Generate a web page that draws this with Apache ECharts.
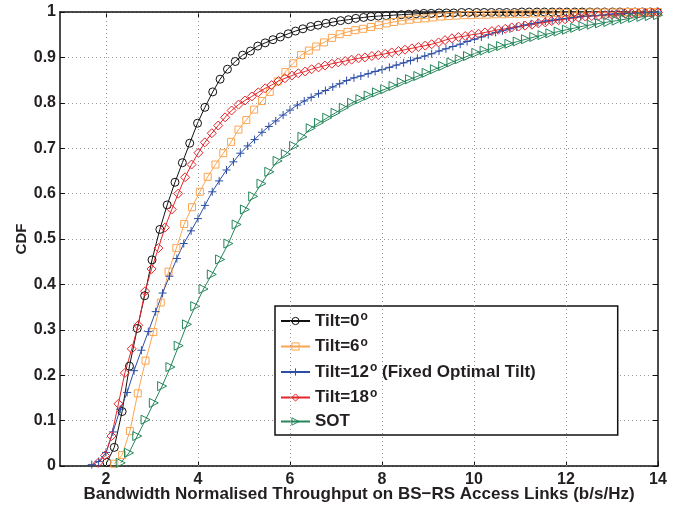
<!DOCTYPE html>
<html>
<head>
<meta charset="utf-8">
<script src="https://cdn.jsdelivr.net/npm/echarts@6/dist/echarts.min.js"></script>
<style>
  html, body { margin: 0; padding: 0; background: #fff; }
  #chart { width: 681px; height: 508px; }
</style>
</head>
<body>
<div id="chart"></div>
<script>
// Axis ticks and labels
const xTicks = [2, 4, 6, 8, 10, 12, 14];
const xGridLines = [2, 4, 6, 8, 10, 12];
const yTickLabels = ['0', '0.1', '0.2', '0.3', '0.4', '0.5', '0.6', '0.7', '0.8', '0.9', '1'];
const xName = 'Bandwidth Normalised Throughput on BS\u2212RS Access Links (b/s/Hz)';
const yName = 'CDF';

// Series names (legend order)
const seriesNames = ['Tilt=0', 'Tilt=6', 'Tilt=12', 'Tilt=18', 'SOT'];

// Tilt = 0 deg
const tilt0X = [2.02, 2.18, 2.35, 2.51, 2.68, 2.84, 3.00, 3.17, 3.33, 3.50, 3.66, 3.82, 3.99, 4.15, 4.32, 4.48, 4.64, 4.81, 4.97, 5.14, 5.30, 5.46, 5.63, 5.79, 5.96, 6.12, 6.28, 6.45, 6.61, 6.78, 6.94, 7.10, 7.27, 7.43, 7.60, 7.76, 7.92, 8.09, 8.25, 8.42, 8.58, 8.74, 8.91, 9.07, 9.24, 9.40, 9.56, 9.73, 9.89, 10.06, 10.22, 10.38, 10.55, 10.71, 10.88, 11.04, 11.20, 11.37, 11.53, 11.70, 11.86, 12.02, 12.19, 12.35, 12.52, 12.68, 12.84, 13.01, 13.17, 13.34, 13.50, 13.66, 13.83, 13.99];
const tilt0Y = [0.008, 0.041, 0.12, 0.22, 0.303, 0.375, 0.454, 0.521, 0.575, 0.625, 0.668, 0.711, 0.755, 0.79, 0.824, 0.852, 0.874, 0.891, 0.905, 0.914, 0.925, 0.932, 0.939, 0.945, 0.952, 0.958, 0.963, 0.968, 0.971, 0.975, 0.978, 0.981, 0.983, 0.986, 0.988, 0.99, 0.991, 0.992, 0.993, 0.994, 0.995, 0.996, 0.997, 0.997, 0.998, 0.998, 0.998, 0.999, 0.999, 0.999, 0.999, 0.999, 0.999, 0.999, 0.999, 1, 1, 1, 1, 1, 1, 1, 1, 1, 1, 1, 1, 1, 1, 1, 1, 1, 1, 1];

// Tilt = 6 deg
const tilt6X = [2.18, 2.35, 2.52, 2.69, 2.86, 3.03, 3.19, 3.36, 3.53, 3.70, 3.87, 4.04, 4.21, 4.38, 4.55, 4.72, 4.88, 5.05, 5.22, 5.39, 5.56, 5.73, 5.90, 6.07, 6.24, 6.41, 6.57, 6.74, 6.91, 7.08, 7.25, 7.42, 7.59, 7.76, 7.93, 8.10, 8.26, 8.43, 8.60, 8.77, 8.94, 9.11, 9.28, 9.45, 9.62, 9.79, 9.95, 10.12, 10.29, 10.46, 10.63, 10.80, 10.97, 11.14, 11.31, 11.48, 11.64, 11.81, 11.98, 12.15, 12.32, 12.49, 12.66, 12.83, 13.00, 13.17, 13.33, 13.50, 13.67, 13.84, 14.00];
const tilt6Y = [0.005, 0.024, 0.077, 0.16, 0.232, 0.295, 0.36, 0.428, 0.48, 0.533, 0.57, 0.604, 0.637, 0.664, 0.689, 0.714, 0.741, 0.762, 0.785, 0.804, 0.824, 0.847, 0.868, 0.887, 0.905, 0.915, 0.924, 0.933, 0.943, 0.951, 0.956, 0.96, 0.963, 0.967, 0.971, 0.975, 0.978, 0.981, 0.983, 0.985, 0.986, 0.988, 0.99, 0.991, 0.992, 0.993, 0.993, 0.994, 0.994, 0.995, 0.995, 0.996, 0.996, 0.996, 0.997, 0.997, 0.997, 0.998, 0.998, 0.998, 0.998, 0.999, 0.999, 0.999, 0.999, 0.999, 1, 1, 1, 1, 1];

// Tilt = 12 deg (fixed optimal tilt)
const tilt12X = [1.69, 1.84, 2.00, 2.15, 2.31, 2.46, 2.61, 2.77, 2.92, 3.08, 3.23, 3.38, 3.54, 3.69, 3.85, 4.00, 4.15, 4.31, 4.46, 4.62, 4.77, 4.92, 5.08, 5.23, 5.39, 5.54, 5.69, 5.85, 6.00, 6.16, 6.31, 6.46, 6.62, 6.77, 6.93, 7.08, 7.23, 7.39, 7.54, 7.70, 7.85, 8.00, 8.16, 8.31, 8.47, 8.62, 8.77, 8.93, 9.08, 9.24, 9.39, 9.54, 9.70, 9.85, 10.01, 10.16, 10.31, 10.47, 10.62, 10.78, 10.93, 11.08, 11.24, 11.39, 11.55, 11.70, 11.85, 12.01, 12.16, 12.32, 12.47, 12.62, 12.78, 12.93, 13.09, 13.24, 13.39, 13.55, 13.70, 13.86, 14.00];
const tilt12Y = [0.003, 0.010, 0.030, 0.075, 0.125, 0.162, 0.21, 0.255, 0.296, 0.34, 0.381, 0.418, 0.457, 0.49, 0.518, 0.545, 0.574, 0.604, 0.628, 0.652, 0.67, 0.689, 0.705, 0.719, 0.735, 0.748, 0.76, 0.773, 0.784, 0.795, 0.804, 0.812, 0.82, 0.827, 0.835, 0.842, 0.849, 0.855, 0.859, 0.864, 0.869, 0.873, 0.878, 0.883, 0.888, 0.893, 0.898, 0.903, 0.908, 0.914, 0.919, 0.924, 0.929, 0.935, 0.94, 0.945, 0.95, 0.955, 0.959, 0.963, 0.967, 0.971, 0.974, 0.977, 0.98, 0.982, 0.984, 0.986, 0.988, 0.99, 0.991, 0.992, 0.993, 0.995, 0.996, 0.997, 0.997, 0.998, 0.999, 0.999, 1];

// Tilt = 18 deg
const tilt18X = [1.83, 1.98, 2.12, 2.27, 2.41, 2.56, 2.70, 2.85, 2.99, 3.14, 3.28, 3.43, 3.57, 3.72, 3.86, 4.01, 4.15, 4.30, 4.44, 4.59, 4.73, 4.88, 5.02, 5.17, 5.31, 5.46, 5.60, 5.75, 5.89, 6.04, 6.18, 6.33, 6.47, 6.62, 6.76, 6.91, 7.05, 7.20, 7.34, 7.49, 7.63, 7.78, 7.92, 8.07, 8.21, 8.36, 8.50, 8.65, 8.79, 8.94, 9.08, 9.23, 9.37, 9.52, 9.66, 9.81, 9.95, 10.10, 10.24, 10.39, 10.53, 10.68, 10.82, 10.97, 11.11, 11.26, 11.40, 11.55, 11.69, 11.84, 11.98, 12.13, 12.27, 12.42, 12.56, 12.71, 12.85, 13.00, 13.14, 13.29, 13.43, 13.58, 13.72, 13.87, 14.00];
const tilt18Y = [0.007, 0.023, 0.066, 0.137, 0.205, 0.258, 0.31, 0.385, 0.434, 0.48, 0.525, 0.565, 0.60, 0.636, 0.664, 0.69, 0.713, 0.733, 0.75, 0.768, 0.783, 0.796, 0.805, 0.814, 0.823, 0.832, 0.839, 0.848, 0.854, 0.86, 0.865, 0.869, 0.874, 0.878, 0.882, 0.886, 0.889, 0.892, 0.895, 0.898, 0.9, 0.903, 0.905, 0.908, 0.911, 0.914, 0.917, 0.92, 0.923, 0.926, 0.929, 0.933, 0.938, 0.942, 0.945, 0.947, 0.95, 0.952, 0.955, 0.958, 0.961, 0.963, 0.966, 0.968, 0.97, 0.972, 0.975, 0.977, 0.98, 0.982, 0.984, 0.986, 0.988, 0.99, 0.991, 0.992, 0.993, 0.994, 0.995, 0.996, 0.997, 0.997, 0.998, 0.998, 0.999];

// SOT
const sotX = [2.32, 2.50, 2.68, 2.86, 3.04, 3.22, 3.40, 3.58, 3.76, 3.94, 4.12, 4.30, 4.48, 4.66, 4.84, 5.02, 5.20, 5.38, 5.55, 5.73, 5.91, 6.09, 6.27, 6.45, 6.63, 6.81, 6.99, 7.17, 7.35, 7.53, 7.71, 7.89, 8.07, 8.25, 8.43, 8.61, 8.79, 8.97, 9.15, 9.33, 9.51, 9.69, 9.87, 10.05, 10.23, 10.41, 10.59, 10.77, 10.95, 11.13, 11.31, 11.49, 11.66, 11.84, 12.02, 12.20, 12.38, 12.56, 12.74, 12.92, 13.10, 13.28, 13.46, 13.64, 13.82, 14.00];
const sotY = [0.007, 0.029, 0.066, 0.102, 0.139, 0.176, 0.218, 0.265, 0.312, 0.352, 0.39, 0.422, 0.455, 0.49, 0.532, 0.565, 0.594, 0.622, 0.648, 0.672, 0.687, 0.705, 0.725, 0.744, 0.756, 0.767, 0.778, 0.789, 0.8, 0.808, 0.816, 0.823, 0.83, 0.837, 0.845, 0.852, 0.859, 0.866, 0.874, 0.881, 0.889, 0.896, 0.903, 0.91, 0.915, 0.92, 0.925, 0.93, 0.935, 0.94, 0.945, 0.949, 0.953, 0.957, 0.961, 0.965, 0.969, 0.972, 0.975, 0.978, 0.981, 0.984, 0.987, 0.989, 0.991, 0.993];

const FONT = '"Liberation Sans", Arial, Helvetica, sans-serif';
const TEXT = '#231f20';
const AXIS = '#111';
const gridLineStyle = { color: '#9a9a9a', width: 1, type: [1, 3] };

// Legend labels with superscript degree "o"
const legendLabels = {
  'Tilt=0': '{b|Tilt=0}{s|o}',
  'Tilt=6': '{b|Tilt=6}{s|o}',
  'Tilt=12': '{b|Tilt=12}{s|o}{b| (Fixed Optimal Tilt)}',
  'Tilt=18': '{b|Tilt=18}{s|o}',
  'SOT': '{b|SOT}'
};

function pairs(xs, ys) {
  const n = Math.min(xs.length, ys.length);
  const out = [];
  for (let i = 0; i < n; i++) out.push([xs[i], ys[i]]);
  return out;
}

function lineSeries(name, xs, ys, color, symbol, size, rotate) {
  return {
    type: 'line',
    name: name,
    data: pairs(xs, ys),
    xAxisIndex: 0,
    yAxisIndex: 0,
    symbol: symbol,
    symbolSize: size,
    symbolRotate: rotate || 0,
    showSymbol: true,
    showAllSymbol: true,
    lineStyle: { color: color, width: 1 },
    itemStyle: { color: 'rgba(0,0,0,0)', borderColor: color, borderWidth: 1 },
    emphasis: { disabled: true },
    animation: false,
    z: 3
  };
}

const plusPath = 'path://M0,5L10,5M5,0L5,10';

const chart = echarts.init(document.getElementById('chart'), null, { renderer: 'canvas' });

const option = {
  backgroundColor: '#fff',
  animation: false,
  textStyle: { fontFamily: FONT },
  grid: { left: 60, right: 23, top: 12, bottom: 42, containLabel: false, outerBoundsMode: 'none' },
  legend: {
    orient: 'vertical',
    left: 275,
    top: 306,
    data: seriesNames,
    itemWidth: 29,
    itemHeight: 9,
    itemGap: 7,
    padding: [5, 82, 5, 5],
    backgroundColor: '#fff',
    borderColor: '#111',
    borderWidth: 1.5,
    borderRadius: 0,
    selectedMode: false,
    itemStyle: { color: 'rgba(0,0,0,0)', borderWidth: 1 },
    formatter: function (name) { return legendLabels[name] || name; },
    textStyle: {
      fontFamily: FONT,
      fontSize: 17,
      fontWeight: 'bold',
      color: TEXT,
      rich: {
        b: { fontFamily: FONT, fontSize: 17, fontWeight: 'bold', color: TEXT, lineHeight: 20 },
        s: { fontFamily: FONT, fontSize: 12, color: TEXT, lineHeight: 6, verticalAlign: 'top', padding: [0, 0, 0, 1] }
      }
    }
  },
  xAxis: [
    {
      type: 'value',
      min: 1,
      max: 14,
      position: 'bottom',
      name: xName,
      nameLocation: 'middle',
      nameGap: 20,
      nameMoveOverlap: false,
      nameTextStyle: { fontFamily: FONT, fontSize: 17, fontWeight: 'bold', color: TEXT },
      axisLine: { show: true, onZero: false, lineStyle: { color: AXIS, width: 1.5 } },
      axisTick: { show: true, inside: true, length: 5, customValues: xTicks, lineStyle: { color: AXIS, width: 1 } },
      axisLabel: { show: true, customValues: xTicks, margin: 6, fontFamily: FONT, fontSize: 16, fontWeight: 'bold', color: TEXT },
      splitLine: { show: false }
    },
    {
      type: 'value',
      min: 1,
      max: 14,
      position: 'top',
      axisLine: { show: true, onZero: false, lineStyle: { color: AXIS, width: 1.5 } },
      axisTick: { show: true, inside: true, length: 5, customValues: xTicks, lineStyle: { color: AXIS, width: 1 } },
      axisLabel: { show: false },
      splitLine: { show: false }
    }
  ],
  yAxis: [
    {
      type: 'value',
      min: 0,
      max: 1,
      interval: 0.1,
      position: 'left',
      name: yName,
      nameLocation: 'middle',
      nameGap: 31,
      nameMoveOverlap: false,
      nameTextStyle: { fontFamily: FONT, fontSize: 15, fontWeight: 'bold', color: TEXT },
      axisLine: { show: true, onZero: false, lineStyle: { color: AXIS, width: 1.5 } },
      axisTick: { show: true, inside: true, length: 5, lineStyle: { color: AXIS, width: 1 } },
      axisLabel: {
        margin: 4, fontFamily: FONT, fontSize: 16, fontWeight: 'bold', color: TEXT,
        formatter: function (v) { return yTickLabels[Math.round(v * 10)]; }
      },
      splitLine: { show: true, lineStyle: gridLineStyle }
    },
    {
      type: 'value',
      min: 0,
      max: 1,
      interval: 0.1,
      position: 'right',
      axisLine: { show: true, onZero: false, lineStyle: { color: AXIS, width: 1.5 } },
      axisTick: { show: true, inside: true, length: 5, lineStyle: { color: AXIS, width: 1 } },
      axisLabel: { show: false },
      splitLine: { show: false }
    }
  ],
  series: [
    {
      // vertical dotted grid lines at the labelled x ticks
      type: 'line',
      name: 'xgrid',
      data: [],
      xAxisIndex: 0,
      yAxisIndex: 0,
      silent: true,
      z: 1,
      markLine: {
        silent: true,
        animation: false,
        symbol: ['none', 'none'],
        label: { show: false },
        emphasis: { disabled: true },
        lineStyle: gridLineStyle,
        data: xGridLines.map(function (v) { return { xAxis: v }; })
      }
    },
    lineSeries('Tilt=0', tilt0X, tilt0Y, '#111111', 'circle', 8, 0),
    lineSeries('Tilt=6', tilt6X, tilt6Y, '#fba552', 'rect', 7, 0),
    lineSeries('Tilt=12', tilt12X, tilt12Y, '#2c4ea6', plusPath, 8, 0),
    lineSeries('Tilt=18', tilt18X, tilt18Y, '#e3262b', 'diamond', 9, 0),
    lineSeries('SOT', sotX, sotY, '#24875a', 'triangle', 9, -90)
  ]
};

chart.setOption(option);
</script>
</body>
</html>
